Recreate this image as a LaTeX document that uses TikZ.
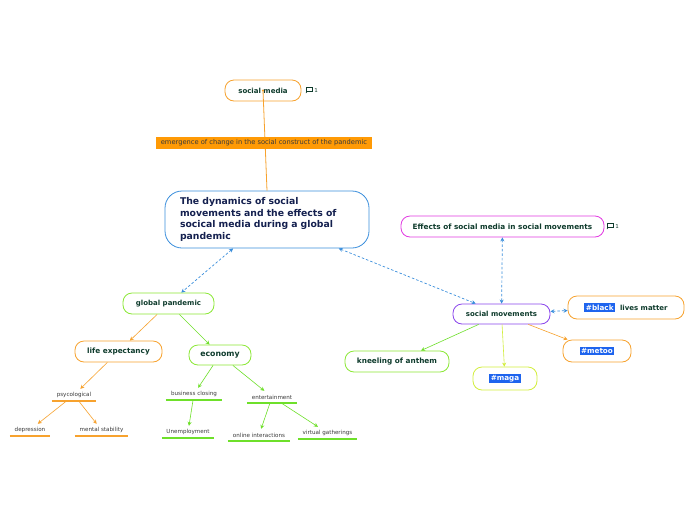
\documentclass[tikz,border=0pt]{standalone}
\usepackage{fontspec}
\setmainfont{DejaVu Sans}
\usetikzlibrary{arrows.meta}
\definecolor{txtgreen}{HTML}{0E3B2C}
\definecolor{txtnavy}{HTML}{14204F}
\definecolor{txtgray}{HTML}{3A3A3A}
\definecolor{corange}{HTML}{F7A22E}
\definecolor{lblorange}{HTML}{FF9A05}
\definecolor{cgreen}{HTML}{8BE835}
\definecolor{lgreen}{HTML}{6EE02A}
\definecolor{cblue}{HTML}{3A8EDC}
\definecolor{cmagenta}{HTML}{E23AE2}
\definecolor{cpurple}{HTML}{8A45EC}
\definecolor{cyellow}{HTML}{D2EE3C}
\definecolor{tagblue}{HTML}{1E64EE}
\newcommand\htag[1]{{\setlength{\fboxsep}{1.6pt}\colorbox{tagblue}{\color{white}\bfseries\fontsize{7.2}{8}\selectfont #1}}}
\tikzset{
  topic/.style={draw, line width=0.8pt, rounded corners=9pt, fill=white, text=txtgreen,
    font=\bfseries\fontsize{7}{8}\selectfont, inner sep=0pt},
  sub/.style={inner sep=0pt, text=txtgray, font=\fontsize{5.6}{6.5}\selectfont, minimum height=12pt},
  uline/.style={draw=#1, line width=1.7pt},
  arr/.style={draw=#1, line width=0.6pt, -{Stealth[length=4pt,width=4pt]}},
  darr/.style={draw=cblue, line width=0.7pt, dash pattern=on 2.5pt off 2pt,
    {Stealth[length=4pt,width=4pt]}-{Stealth[length=4pt,width=4pt]}},
}
\begin{document}
\begin{tikzpicture}[x=1pt,y=-1pt]
\useasboundingbox (0,0) rectangle (696,520);
\fill[white] (0,0) rectangle (696,520);

% nodes
\node[topic, draw=corange, minimum width=76pt, minimum height=21pt] (sm) at (263,90.5) {social media};
\node[draw=cblue, line width=0.8pt, rounded corners=17pt, fill=white, text=txtnavy,
  font=\bfseries\fontsize{9.3}{11.7}\selectfont, text width=174pt, inner xsep=15pt,
  minimum height=57pt, align=left] (main) at (267,219.5)
  {The dynamics of social\\movements and the effects of\\socical media during a global\\pandemic};
\node[topic, draw=cgreen, minimum width=91pt, minimum height=21pt] (gp) at (168.5,303.5) {global pandemic};
\node[topic, draw=corange, minimum width=87pt, minimum height=21pt, font=\bfseries\fontsize{7.3}{8}\selectfont] (le) at (118.5,351.5) {life expectancy};
\node[topic, draw=cgreen, minimum width=62pt, minimum height=20pt, font=\bfseries\fontsize{7.8}{8}\selectfont] (eco) at (220,355) {economy};

\node[sub, minimum width=44pt] (psy) at (74,395) {psycological};
\node[sub, minimum width=40pt] (dep) at (30,430) {depression};
\node[sub, minimum width=53pt] (ms) at (101.5,430) {mental stability};
\node[sub, minimum width=56pt] (bc) at (194,394) {business closing};
\node[sub, minimum width=52pt] (un) at (188,432) {Unemployment};
\node[sub, minimum width=50pt] (ent) at (272,397) {entertainment};
\node[sub, minimum width=62pt] (oi) at (259,435) {online interactions};
\node[sub, minimum width=59pt] (vg) at (327.5,433) {virtual gatherings};
\foreach \nd/\cl in {psy/corange, dep/corange, ms/corange, bc/lgreen, un/lgreen, ent/lgreen, oi/lgreen, vg/lgreen}
  \draw[uline=\cl] (\nd.south west) -- (\nd.south east);

\node[topic, draw=cmagenta, minimum width=203pt, minimum height=21pt, font=\bfseries\fontsize{7.3}{8}\selectfont] (eff) at (502.5,226.5) {Effects of social media in social movements};
\node[topic, draw=cpurple, minimum width=97pt, minimum height=20pt] (smv) at (501.5,314) {social movements};
\node[topic, draw=corange, minimum width=116pt, minimum height=23pt] (blm) at (626,307.5) {\htag{\#black}\ \ lives matter};
\node[topic, draw=corange, minimum width=68pt, minimum height=22pt] (metoo) at (597,351) {\htag{\#metoo}};
\node[topic, draw=cgreen, minimum width=104pt, minimum height=21pt, font=\bfseries\fontsize{7.3}{8}\selectfont] (kn) at (397,361.5) {kneeling of anthem};
\node[topic, draw=cyellow, minimum width=64pt, minimum height=23pt] (maga) at (505,378.5) {\htag{\#maga}};

% social media to main, with label
\draw[corange, line width=0.8pt] (sm.center) -- (main.north);
\fill[corange] (sm.center) circle (1.2pt);
\node[fill=lblorange, text=txtgray, font=\fontsize{6.7}{7}\selectfont, minimum width=216pt, minimum height=12pt, inner sep=0pt] (lbl) at (264,143) {emergence of change in the social construct of the pandemic};

% comment icons
\begin{scope}[draw=txtgreen, line width=0.6pt]
\draw (306,87.5) rectangle (312,91.5);
\draw (307,91.5) -- (306,93);
\draw (607,223.5) rectangle (613,227.5);
\draw (608,227.5) -- (607,229);
\end{scope}
\node[text=txtgreen, font=\fontsize{5.5}{6}\selectfont, inner sep=0pt] (c1) at (316,90) {1};
\node[text=txtgreen, font=\fontsize{5.5}{6}\selectfont, inner sep=0pt] (c2) at (617,226) {1};

% connectors
\draw[darr] (main) -- (gp);
\draw[darr] (main) -- (smv);
\draw[darr] (eff) -- (smv);
\draw[darr] (smv) -- (blm);
\draw[arr=corange] (gp) -- (le);
\draw[arr=lgreen] (gp) -- (eco);
\draw[arr=corange] (le) -- (psy);
\draw[arr=corange] (psy) -- (dep);
\draw[arr=corange] (psy) -- (ms);
\draw[arr=lgreen] (eco) -- (bc);
\draw[arr=lgreen] (bc) -- (un);
\draw[arr=lgreen] (eco) -- (ent);
\draw[arr=lgreen] (ent) -- (oi);
\draw[arr=lgreen] (ent) -- (vg);
\draw[arr=lgreen] (smv) -- (kn);
\draw[arr=cyellow] (smv) -- (maga);
\draw[arr=corange] (smv) -- (metoo);
\end{tikzpicture}
\end{document}
